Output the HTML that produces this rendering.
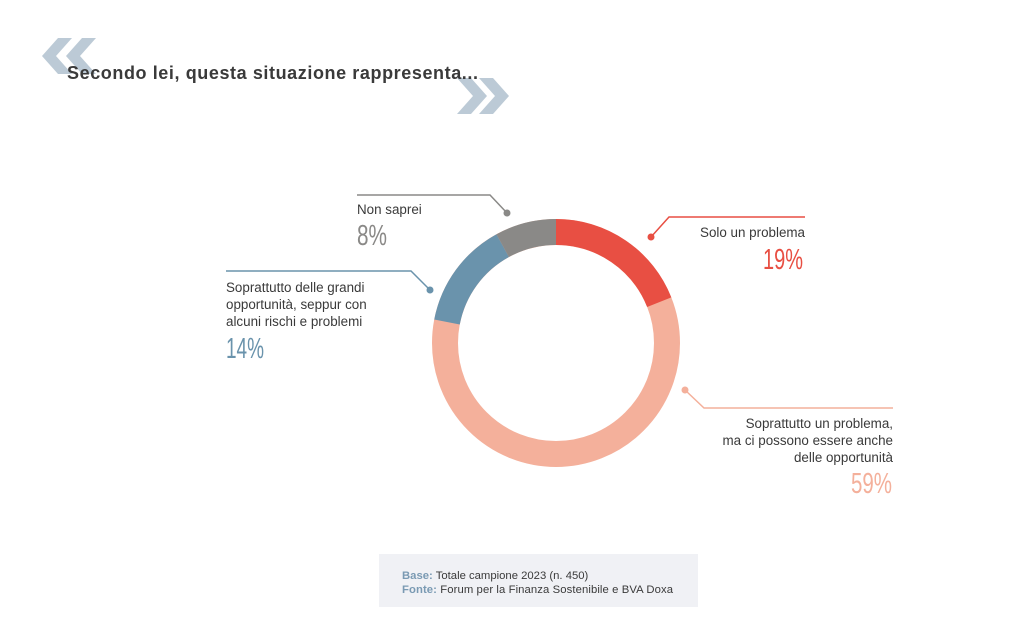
<!DOCTYPE html>
<html><head><meta charset="utf-8"><style>
html,body{margin:0;padding:0;background:#fff;width:1032px;height:640px;overflow:hidden}
svg{display:block}
text{font-family:"Liberation Sans",sans-serif}
</style></head><body>
<svg width="1032" height="640" viewBox="0 0 1032 640">
<g fill="#bccad6">
<polygon points="58,38 72,38 56,56 72,74 58,74 42,56"/>
<polygon points="82,38 96,38 80,56 96,74 82,74 66,56"/>
<polygon points="457,78 471,78 487,96 471,114 457,114 473,96"/>
<polygon points="479,78 493,78 509,96 493,114 479,114 495,96"/>
</g>
<text x="67" y="79" font-size="18" font-weight="bold" fill="#3a3a3a" textLength="411">Secondo lei, questa situazione rappresenta...</text>
<g transform="rotate(-90 556 343)" fill="none" stroke-width="26">
<circle cx="556" cy="343" r="111" stroke="#f4b09b"/>
<circle cx="556" cy="343" r="111" stroke="#e84f43" stroke-dasharray="132.5 600"/>
<circle cx="556" cy="343" r="111" stroke="#6a93ac" stroke-dasharray="97.6 700" stroke-dashoffset="-544"/>
<circle cx="556" cy="343" r="111" stroke="#8a8987" stroke-dasharray="55.8 700" stroke-dashoffset="-641.6"/>
</g>
<g fill="none" stroke-width="1.5">
<polyline points="507,213 490,195 357,195" stroke="#8a8987"/>
<polyline points="651,237 669,217 805,217" stroke="#e84f43"/>
<polyline points="430,290 411,271 226,271" stroke="#6a93ac"/>
<polyline points="685,390 704,408 893,408" stroke="#f4b09b"/>
</g>
<circle cx="507" cy="213" r="3.5" fill="#8a8987"/>
<circle cx="651" cy="237" r="3.5" fill="#e84f43"/>
<circle cx="430" cy="290" r="3.5" fill="#6a93ac"/>
<circle cx="685" cy="390" r="3.5" fill="#f4b09b"/>
<g font-size="13.4" fill="#3a3a3a">
<text x="357" y="214">Non saprei</text>
<text x="805" y="237" text-anchor="end">Solo un problema</text>
<text x="226" y="292">Soprattutto delle grandi</text>
<text x="226" y="309">opportunità, seppur con</text>
<text x="226" y="326">alcuni rischi e problemi</text>
<text x="893" y="428" text-anchor="end">Soprattutto un problema,</text>
<text x="893" y="445" text-anchor="end">ma ci possono essere anche</text>
<text x="893" y="462" text-anchor="end">delle opportunità</text>
</g>
<g font-size="29">
<text x="357" y="245" fill="#8a8987" textLength="30" lengthAdjust="spacingAndGlyphs">8%</text>
<text x="763" y="269" fill="#e84f43" textLength="40" lengthAdjust="spacingAndGlyphs">19%</text>
<text x="226" y="358" fill="#6a93ac" textLength="38" lengthAdjust="spacingAndGlyphs">14%</text>
<text x="851" y="493" fill="#f4b09b" textLength="41" lengthAdjust="spacingAndGlyphs">59%</text>
</g>
<rect x="379" y="554" width="319" height="53" fill="#f0f1f5"/>
<g font-size="11.3">
<text x="402" y="579"><tspan fill="#7a9ab3" font-weight="bold">Base:</tspan><tspan fill="#3a3a3a"> Totale campione 2023 (n. 450)</tspan></text>
<text x="402" y="593" textLength="271"><tspan fill="#7a9ab3" font-weight="bold">Fonte:</tspan><tspan fill="#3a3a3a"> Forum per la Finanza Sostenibile e BVA Doxa</tspan></text>
</g>
</svg>
</body></html>
